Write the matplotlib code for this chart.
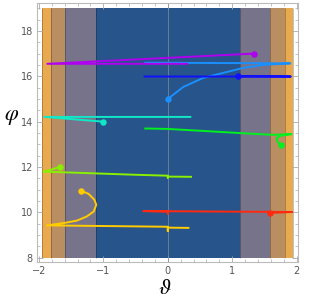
import numpy as np
import matplotlib
matplotlib.use("Agg")
from matplotlib import pyplot as plt
from matplotlib.ticker import MultipleLocator

plt.rcParams['mathtext.fontset'] = 'stix'

# background bands: (half width, colour), drawn widest first
band_half = [1.95, 1.82, 1.59, 1.12]
band_colors = ['#E9A94F', '#B98E61', '#77738A', '#27548A']

# trajectories, first point is the start dot
red_x = [1.59, 1.93, -0.38, 0.0, 0.0]
red_y = [9.98, 10.02, 10.06, 10.04, 9.94]

yellow_x = [-1.35, -1.23, -1.14, -1.11, -1.15, -1.26, -1.41, -1.62, -1.88, 0.0, 0.0, 0.0, 0.32]
yellow_y = [10.96, 10.82, 10.56, 10.34, 10.04, 9.82, 9.64, 9.53, 9.43, 9.37, 9.18, 9.33, 9.32]

ygreen_x = [-1.68, -1.83, -1.93, -0.5, 0.0, 0.0, 0.0, 0.36]
ygreen_y = [12.0, 11.87, 11.80, 11.66, 11.62, 11.53, 11.58, 11.57]

green_x = [1.75, 1.70, 1.69, 1.74, 1.85, 1.92, 1.63, 1.17, 0.5, 0.0, -0.35]
green_y = [12.98, 13.12, 13.27, 13.37, 13.43, 13.45, 13.42, 13.49, 13.60, 13.68, 13.70]

cyan_x = [-1.0, -1.92, 0.35]
cyan_y = [14.0, 14.21, 14.21]

azure_x = [0.0, 0.24, 0.55, 0.86, 1.17, 1.48, 1.9, -0.35]
azure_y = [15.0, 15.53, 15.93, 16.15, 16.37, 16.50, 16.57, 16.60]

blue_x = [1.09, 1.91, -0.36]
blue_y = [16.0, 15.99, 15.99]

purple_x = [1.34, -1.87, 0.3]
purple_y = [17.0, 16.55, 16.55]

tracks = [
    (red_x, red_y, '#FF2A10'),
    (yellow_x, yellow_y, '#FFCC00'),
    (ygreen_x, ygreen_y, '#88F000'),
    (green_x, green_y, '#00F020'),
    (cyan_x, cyan_y, '#10E8C8'),
    (azure_x, azure_y, '#1A90FF'),
    (blue_x, blue_y, '#1010FF'),
    (purple_x, purple_y, '#B000F0'),
]

fig = plt.figure(figsize=(3.26, 2.99), dpi=100)
ax = fig.add_axes([0.1135, 0.124, 0.8005, 0.866])

for h, c in zip(band_half, band_colors):
    ax.fill_between([-h, h], 8, 19, color=c, lw=0, zorder=1)
    ax.vlines([-h, h], 8, 19, color='#000000', alpha=0.25, lw=0.7, zorder=1.5)
ax.axvline(0, ymin=0.0, ymax=1.0, color='#8090A0', lw=0.7, alpha=0.7, zorder=1.6)

for xs, ys, c in tracks:
    ax.plot(xs, ys, color=c, lw=1.4, zorder=3, solid_joinstyle='round')
    ax.plot(xs[0], ys[0], 'o', color=c, ms=3.6, zorder=4)

ax.set_xlim(-2.03, 2.02)
ax.set_ylim(7.82, 19.23)
ax.xaxis.set_major_locator(MultipleLocator(1))
ax.xaxis.set_minor_locator(MultipleLocator(0.2))
ax.yaxis.set_major_locator(MultipleLocator(2))
ax.yaxis.set_minor_locator(MultipleLocator(0.5))
ax.tick_params(which='both', direction='in', top=True, right=True,
               colors='#AAAAAA', labelcolor='#555555', labelsize=7, pad=3)
ax.tick_params(which='major', length=4, width=0.6)
ax.tick_params(which='minor', length=2, width=0.5)
ax.xaxis.set_major_formatter(matplotlib.ticker.FuncFormatter(
    lambda v, p: ('\u2212%d' % -v) if v < 0 else '%d' % v))
for s in ax.spines.values():
    s.set_color('#BBBBBB')
    s.set_linewidth(0.8)

# axis labels placed where the reference has them
fig.text(165 / 326, 1 - 288 / 299, r'$\vartheta$', fontsize=16, ha='center', va='center')
fig.text(12 / 326, 1 - 117 / 299, r'$\varphi$', fontsize=16, ha='center', va='center')

fig.savefig('out.png', dpi=100)
